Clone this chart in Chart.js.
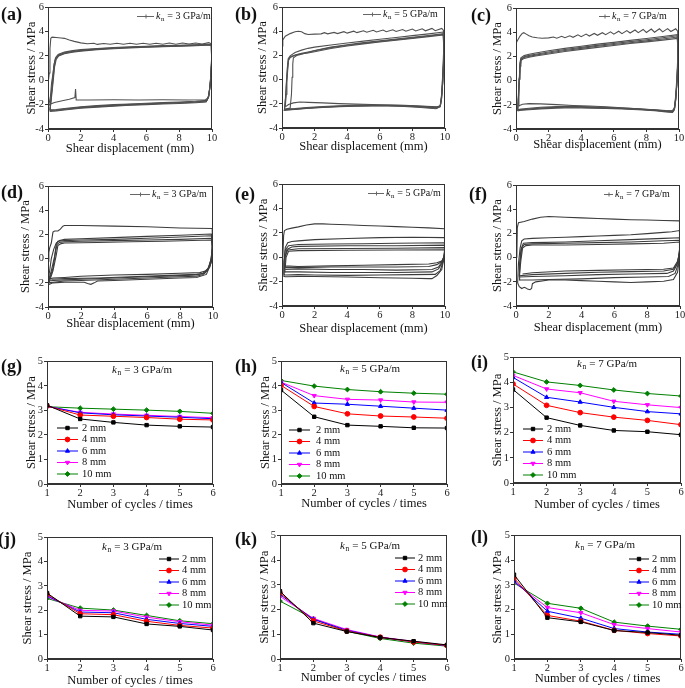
<!DOCTYPE html>
<html lang="en">
<head>
<meta charset="UTF-8" />
<title>Shear stress under cyclic shear</title>
<script src="https://cdn.jsdelivr.net/npm/chart.js"></script>
<style>
  body {
    margin: 0;
    width: 685px;
    height: 688px;
    overflow: hidden;
    background: #fff;
    position: relative;
    font-family: "Liberation Serif", "Times New Roman", serif;
  }
  .panel { position: absolute; }
  .tag { position: absolute; font-weight: bold; font-size: 18px; line-height: 1; color: #111; }
</style>
</head>
<body>
<script>
// ---- data ----
const dispTicks = [0, 2, 4, 6, 8, 10];
const loopStressTicks = [-4, -2, 0, 2, 4, 6];
const cycleTicks = [1, 2, 3, 4, 5, 6];
const peakStressTicks = [0, 1, 2, 3, 4, 5];
const amplitudes = ["2 mm", "4 mm", "6 mm", "8 mm", "10 mm"];

// hysteresis loops, one flat [x0, y0, x1, y1, ...] array per cycle
const loopsA = [
  [0,-0.3, 0.08,0.6, 0.12,2.6, 0.17,3.45, 0.25,3.55, 0.5,3.52, 0.8,3.48, 1.0,3.45, 1.3,3.32, 1.6,3.2, 2.0,3.08, 2.4,3.0, 2.8,3.05, 3.0,2.95, 3.4,3.03, 3.8,2.96, 4.2,3.05, 4.6,2.96, 5.0,3.04, 5.4,2.97, 5.8,3.05, 6.2,2.96, 6.6,3.05, 7.0,2.97, 7.4,3.06, 7.8,2.97, 8.2,3.06, 8.6,2.98, 9.0,3.07, 9.4,2.98, 9.8,3.1, 9.97,3.0,
   9.98,2.0, 9.93,0.4, 9.85,-0.8, 9.76,-1.45, 9.6,-1.6, 8.5,-1.62, 7,-1.6, 5.5,-1.62, 4,-1.6, 2.5,-1.62, 1.72,-1.62, 1.68,-0.72, 1.64,-1.42, 1.3,-1.55, 0.8,-1.7, 0.4,-1.82, 0.15,-1.95, 0.05,-2.05],
  [0.05,-2.05, 0.15,-1.3, 0.22,-0.2, 0.3,0.5, 0.38,1.4, 0.48,1.9, 0.65,2.15, 1.0,2.32, 1.5,2.44, 2,2.52, 3,2.62, 4,2.7, 5,2.76, 6,2.8, 7,2.85, 8,2.88, 9,2.92, 9.96,2.98,
   9.98,1.8, 9.92,0.1, 9.82,-1.2, 9.68,-1.65, 9,-1.72, 8,-1.78, 7,-1.83, 6,-1.88, 5,-1.94, 4,-2.0, 3,-2.08, 2,-2.18, 1,-2.32, 0.5,-2.4, 0.12,-2.42],
  [0.12,-2.42, 0.2,-1.2, 0.28,0.1, 0.36,1.2, 0.45,1.8, 0.6,2.08, 1.0,2.27, 1.5,2.39, 2,2.47, 3,2.58, 4,2.66, 5,2.72, 6,2.77, 7,2.81, 8,2.85, 9,2.89, 9.96,2.94,
   9.98,1.6, 9.9,-0.1, 9.8,-1.3, 9.66,-1.7, 9,-1.76, 8,-1.82, 7,-1.87, 6,-1.92, 5,-1.98, 4,-2.05, 3,-2.12, 2,-2.22, 1,-2.36, 0.5,-2.44, 0.12,-2.47],
  [0.12,-2.47, 0.2,-1.3, 0.3,0.0, 0.38,1.1, 0.47,1.75, 0.62,2.03, 1.0,2.22, 1.5,2.35, 2,2.43, 3,2.55, 4,2.63, 5,2.7, 6,2.75, 7,2.79, 8,2.83, 9,2.87, 9.96,2.92,
   9.98,1.5, 9.9,-0.2, 9.8,-1.35, 9.65,-1.74, 9,-1.8, 8,-1.86, 7,-1.9, 6,-1.96, 5,-2.02, 4,-2.08, 3,-2.16, 2,-2.26, 1,-2.4, 0.5,-2.48, 0.12,-2.5],
  [0.12,-2.5, 0.22,-1.3, 0.32,0.0, 0.4,1.1, 0.5,1.72, 0.65,2.0, 1.0,2.18, 1.5,2.31, 2,2.4, 3,2.52, 4,2.6, 5,2.67, 6,2.73, 7,2.77, 8,2.81, 9,2.85, 9.96,2.9,
   9.98,1.4, 9.9,-0.3, 9.78,-1.4, 9.64,-1.78, 9,-1.84, 8,-1.9, 7,-1.94, 6,-2.0, 5,-2.05, 4,-2.12, 3,-2.2, 2,-2.3, 1,-2.44, 0.5,-2.52, 0.1,-2.55]
];

const loopsB = [
  [0,2.8, 0.05,3.3, 0.2,3.6, 0.5,3.82, 0.8,3.97, 1.0,4.02, 1.2,3.98, 1.4,3.82, 1.6,3.75, 2.0,3.78, 2.4,3.8, 2.6,3.9, 2.8,3.8, 3.2,3.92, 3.4,3.82, 3.8,3.98, 4.0,3.86, 4.4,4.02, 4.6,3.9, 5.0,4.06, 5.2,3.93, 5.6,4.1, 5.8,3.96, 6.2,4.12, 6.4,3.98, 6.8,4.14, 7.0,4.0, 7.4,4.16, 7.6,4.02, 8.0,4.2, 8.2,4.04, 8.6,4.22, 8.8,4.05, 9.2,4.25, 9.4,4.06, 9.8,4.25, 9.9,4.1,
   9.92,2.5, 9.86,0.5, 9.8,-1.2, 9.72,-2.1, 9.6,-2.3, 9.2,-2.25, 8.5,-2.2, 7.5,-2.15, 6.5,-2.1, 5.5,-2.05, 4.5,-2.02, 3.5,-1.98, 2.5,-1.92, 1.6,-1.88, 1.1,-1.85, 0.7,-1.92, 0.4,-2.05, 0.2,-2.25],
  [0.2,-2.25, 0.26,-1.2, 0.3,-0.1, 0.35,0.8, 0.4,1.6, 0.5,1.85, 0.8,2.02, 1.2,2.18, 1.6,2.3, 2,2.42, 3,2.7, 4,2.9, 5,3.07, 6,3.22, 7,3.37, 8,3.52, 9,3.67, 9.9,3.82,
   9.93,2.0, 9.87,0.0, 9.8,-1.5, 9.72,-2.15, 9.5,-2.25, 8.5,-2.18, 7.5,-2.12, 6.5,-2.1, 5.5,-2.1, 4.5,-2.12, 3.5,-2.16, 2.5,-2.22, 1.5,-2.3, 0.8,-2.38, 0.3,-2.42, 0.15,-2.45],
  [0.15,-2.45, 0.5,-2.35, 0.58,-1.2, 0.62,0.2, 0.66,1.3, 0.7,1.82, 0.9,2.0, 1.2,2.12, 1.6,2.26, 2,2.4, 3,2.66, 4,2.86, 5,3.02, 6,3.17, 7,3.32, 8,3.47, 9,3.62, 9.9,3.76,
   9.93,1.8, 9.86,-0.2, 9.78,-1.6, 9.7,-2.2, 9.4,-2.3, 8.5,-2.22, 7.5,-2.16, 6.5,-2.14, 5.5,-2.14, 4.5,-2.16, 3.5,-2.2, 2.5,-2.26, 1.5,-2.34, 0.8,-2.42, 0.3,-2.47, 0.15,-2.5],
  [0.15,-2.5, 0.22,-1.5, 0.27,-0.2, 0.32,0.9, 0.38,1.75, 0.5,1.98, 0.8,2.25, 1.2,2.45, 1.6,2.6, 2,2.7, 3,2.88, 4,3.04, 5,3.2, 6,3.35, 7,3.5, 8,3.65, 9,3.8, 9.9,3.95,
   9.93,2.2, 9.86,0.2, 9.78,-1.4, 9.7,-2.2, 9.45,-2.4, 8.5,-2.3, 7.5,-2.22, 6.5,-2.18, 5.5,-2.18, 4.5,-2.2, 3.5,-2.24, 2.5,-2.3, 1.5,-2.38, 0.8,-2.46, 0.3,-2.5, 0.15,-2.52],
  [0.15,-2.52, 0.22,-1.4, 0.28,-0.2, 0.34,0.9, 0.4,1.7, 0.55,1.92, 0.9,2.08, 1.2,2.15, 1.6,2.22, 2,2.32, 3,2.58, 4,2.8, 5,2.97, 6,3.12, 7,3.27, 8,3.42, 9,3.57, 9.9,3.7,
   9.93,1.7, 9.86,-0.2, 9.78,-1.6, 9.7,-2.25, 9.5,-2.35, 8.5,-2.25, 7.5,-2.18, 6.5,-2.15, 5.5,-2.15, 4.5,-2.18, 3.5,-2.22, 2.5,-2.28, 1.5,-2.36, 0.8,-2.44, 0.3,-2.5, 0.1,-2.55]
];

const loopsC = [
  [0,3.1, 0.1,3.35, 0.25,3.7, 0.38,3.92, 0.48,3.98, 0.6,3.88, 0.8,3.72, 1.0,3.62, 1.3,3.56, 1.6,3.52, 2.0,3.55, 2.3,3.62, 2.5,3.52, 2.8,3.68, 3.0,3.56, 3.3,3.72, 3.5,3.6, 3.8,3.8, 4.0,3.65, 4.3,3.86, 4.5,3.7, 4.8,3.92, 5.0,3.76, 5.3,3.98, 5.5,3.82, 5.8,4.05, 6.0,3.86, 6.3,4.1, 6.5,3.9, 6.8,4.15, 7.0,3.95, 7.3,4.2, 7.5,3.98, 7.8,4.25, 8.0,4.0, 8.3,4.28, 8.5,4.02, 8.8,4.3, 9.0,4.05, 9.3,4.32, 9.5,4.08, 9.8,4.3, 9.92,4.1,
   9.94,2.5, 9.88,0.5, 9.8,-1.2, 9.72,-2.2, 9.6,-2.5, 9.2,-2.5, 8.5,-2.42, 7.5,-2.32, 6.5,-2.24, 5.5,-2.16, 4.5,-2.1, 3.5,-2.05, 2.5,-1.98, 1.5,-1.92, 0.8,-1.9, 0.4,-1.95, 0.15,-2.1],
  [0.15,-2.1, 0.18,-1.0, 0.22,0.3, 0.26,1.2, 0.32,1.7, 0.5,1.85, 0.8,1.95, 1.2,2.05, 2,2.22, 3,2.42, 4,2.6, 5,2.76, 6,2.92, 7,3.08, 8,3.22, 9,3.36, 9.9,3.5,
   9.94,2.0, 9.88,0.0, 9.8,-1.5, 9.72,-2.35, 9.6,-2.6, 9.2,-2.55, 8.5,-2.45, 7.5,-2.36, 6.5,-2.3, 5.5,-2.26, 4.5,-2.22, 3.5,-2.18, 2.5,-2.22, 1.5,-2.28, 0.8,-2.36, 0.3,-2.42, 0.1,-2.45],
  [0.1,-2.45, 0.16,-1.1, 0.2,0.2, 0.25,1.2, 0.3,1.75, 0.5,1.92, 0.8,2.02, 1.2,2.12, 2,2.3, 3,2.5, 4,2.68, 5,2.85, 6,3.0, 7,3.15, 8,3.3, 9,3.46, 9.9,3.62,
   9.94,1.9, 9.88,-0.1, 9.8,-1.6, 9.72,-2.4, 9.6,-2.62, 9.2,-2.58, 8.5,-2.48, 7.5,-2.4, 6.5,-2.34, 5.5,-2.3, 4.5,-2.27, 3.5,-2.24, 2.5,-2.27, 1.5,-2.33, 0.8,-2.4, 0.3,-2.45, 0.1,-2.5],
  [0.1,-2.5, 0.16,-1.2, 0.2,0.1, 0.24,1.3, 0.3,1.8, 0.5,1.98, 0.8,2.1, 1.2,2.2, 2,2.38, 3,2.58, 4,2.76, 5,2.93, 6,3.08, 7,3.24, 8,3.4, 9,3.56, 9.9,3.72,
   9.94,2.0, 9.88,0.0, 9.8,-1.5, 9.72,-2.35, 9.6,-2.55, 9.2,-2.52, 8.5,-2.44, 7.5,-2.36, 6.5,-2.3, 5.5,-2.25, 4.5,-2.2, 3.5,-2.16, 2.5,-2.2, 1.5,-2.26, 0.8,-2.34, 0.3,-2.4, 0.1,-2.45],
  [0.1,-2.45, 0.15,-1.1, 0.19,0.2, 0.23,1.4, 0.3,1.9, 0.5,2.08, 0.8,2.2, 1.2,2.3, 2,2.48, 3,2.68, 4,2.86, 5,3.03, 6,3.18, 7,3.34, 8,3.5, 9,3.66, 9.9,3.82,
   9.94,2.1, 9.88,0.1, 9.8,-1.4, 9.72,-2.3, 9.6,-2.5, 9.2,-2.48, 8.5,-2.4, 7.5,-2.32, 6.5,-2.26, 5.5,-2.2, 4.5,-2.16, 3.5,-2.12, 2.5,-2.15, 1.5,-2.2, 0.8,-2.28, 0.3,-2.35, 0.05,-2.4]
];

const loopsD = [
  [0,-0.2, 0.05,0.5, 0.1,0.9, 0.2,1.3, 0.3,2.2, 0.4,2.3, 0.6,2.3, 0.75,2.45, 0.9,2.7, 1,2.75, 2,2.75, 4,2.7, 6,2.65, 8,2.55, 9.95,2.5,
   9.98,1.0, 9.93,0.0, 9.8,-0.7, 9.6,-1.0, 9.2,-1.15, 8,-1.2, 6,-1.3, 4,-1.35, 2,-1.45, 1,-1.55, 0.3,-1.6, 0.02,-1.7],
  [0.02,-1.7, 0.1,-1.0, 0.2,0.0, 0.35,0.8, 0.5,1.3, 0.7,1.5, 1,1.6, 2,1.65, 4,1.75, 6,1.85, 8,1.95, 9.9,2.05,
   9.97,1.5, 9.9,0.0, 9.7,-0.8, 9.4,-1.2, 9,-1.35, 8,-1.4, 6,-1.5, 4,-1.6, 2,-1.7, 1,-1.75, 0.3,-1.8, 0.02,-1.85],
  [0.02,-1.85, 0.2,-1.0, 0.4,0.2, 0.5,1.2, 0.6,1.45, 1,1.5, 2,1.55, 4,1.6, 6,1.7, 8,1.8, 9.9,1.9,
   9.97,1.2, 9.9,0.0, 9.7,-0.9, 9.4,-1.3, 9,-1.45, 8,-1.5, 6,-1.6, 4,-1.7, 2,-1.8, 1,-1.85, 0.3,-1.95, 0.02,-2.0],
  [0.02,-2.0, 0.3,-0.8, 0.45,0.5, 0.55,1.2, 0.7,1.35, 1,1.4, 2,1.45, 4,1.5, 6,1.55, 8,1.6, 9.9,1.7,
   9.97,1.0, 9.9,-0.3, 9.6,-1.3, 9,-1.55, 8,-1.6, 6,-1.7, 4,-1.8, 3,-1.85, 2.8,-2.0, 2.6,-2.12, 2.4,-2.05, 2.2,-1.95, 1,-1.95, 0.3,-2.0, 0.02,-2.15],
  [0.02,-2.15, 0.3,-1.0, 0.5,0.3, 0.6,1.1, 0.8,1.25, 1,1.3, 3,1.35, 5,1.4, 7,1.45, 9.9,1.55,
   9.97,0.8, 9.8,-0.6, 9.5,-1.2, 9,-1.3, 7,-1.4, 5,-1.5, 3,-1.6, 1,-1.65, 0.2,-1.7]
];

const loopsE = [
  [0.05,0.0, 0.1,1.8, 0.15,2.2, 0.3,2.3, 0.6,2.4, 1,2.5, 1.5,2.65, 2,2.75, 2.5,2.75, 3,2.72, 4,2.68, 5,2.62, 6,2.57, 7,2.52, 8,2.47, 9,2.42, 9.97,2.35,
   9.99,1.2, 9.95,0.2, 9.8,-1.0, 9.5,-1.5, 9.2,-1.75, 9,-1.75, 8,-1.72, 6,-1.68, 4,-1.62, 2,-1.58, 1,-1.58, 0.2,-1.6, 0.1,-1.55],
  [0.1,-1.55, 0.12,-0.5, 0.2,0.8, 0.35,1.2, 0.6,1.3, 1,1.35, 2,1.45, 4,1.55, 6,1.62, 8,1.65, 9.97,1.62,
   9.99,0.8, 9.9,-0.3, 9.7,-1.1, 9.4,-1.4, 8,-1.42, 6,-1.45, 4,-1.48, 2,-1.45, 1,-1.42, 0.2,-1.45, 0.1,-1.4],
  [0.1,-1.4, 0.12,-0.3, 0.2,0.6, 0.4,0.95, 1,1.05, 3,1.1, 5,1.12, 7,1.15, 9.97,1.2,
   9.99,0.5, 9.85,-0.4, 9.6,-0.95, 9.2,-1.2, 7,-1.25, 5,-1.25, 3,-1.25, 1,-1.2, 0.15,-1.2],
  [0.15,-1.2, 0.18,0.0, 0.3,0.65, 0.6,0.85, 1,0.9, 4,0.95, 7,0.95, 9.97,1.0,
   9.99,0.3, 9.85,-0.3, 9.6,-0.8, 9.2,-1.0, 7,-1.05, 5,-1.0, 3,-1.0, 1,-0.95, 0.15,-1.0],
  [0.15,-1.0, 0.2,0.1, 0.35,0.6, 1,0.7, 4,0.72, 7,0.75, 9.97,0.8,
   9.99,0.2, 9.8,-0.35, 9.5,-0.6, 9,-0.75, 7,-0.8, 5,-0.8, 3,-0.8, 1,-0.85, 0.2,-0.85],
  [0.2,-0.85, 0.25,0.0, 0.4,0.5, 1,0.55, 4,0.58, 7,0.6, 9.97,0.62,
   9.99,0.1, 9.8,-0.3, 9.5,-0.45, 9,-0.55, 7,-0.6, 5,-0.65, 3,-0.7, 1,-0.75, 0.2,-0.7]
];

const loopsF = [
  [0.05,0.0, 0.08,2.5, 0.15,2.9, 0.5,3.0, 1,3.2, 1.5,3.35, 2,3.42, 3,3.35, 4,3.3, 5,3.25, 6,3.2, 7,3.15, 8,3.12, 9,3.08, 9.97,3.05,
   9.99,1.5, 9.95,0.0, 9.85,-1.2, 9.6,-1.8, 9,-1.95, 8,-2.0, 7,-2.05, 6,-2.0, 5,-1.95, 4,-1.9, 3,-1.85, 2,-1.85, 1.2,-2.0, 1,-2.15, 0.95,-2.55, 0.85,-2.65, 0.7,-2.6, 0.6,-2.5, 0.5,-2.45, 0.35,-2.55, 0.2,-2.4, 0.1,-2.1],
  [0.1,-2.1, 0.15,-0.5, 0.25,0.8, 0.35,1.4, 0.5,1.55, 1,1.6, 2,1.65, 3,1.7, 4,1.75, 5,1.8, 6,1.85, 7,1.9, 8,2.0, 9,2.1, 9.5,2.15, 9.97,2.25,
   9.99,1.0, 9.9,-0.5, 9.7,-1.3, 9.3,-1.55, 8,-1.6, 6,-1.65, 4,-1.75, 2,-1.8, 1,-1.85, 0.2,-1.85],
  [0.2,-1.85, 0.22,-0.5, 0.3,0.7, 0.45,1.2, 1,1.25, 3,1.3, 5,1.4, 7,1.5, 9,1.6, 9.97,1.65,
   9.99,0.8, 9.85,-0.5, 9.6,-1.1, 9.2,-1.3, 7,-1.35, 5,-1.4, 3,-1.5, 1,-1.55, 0.2,-1.6],
  [0.2,-1.6, 0.25,-0.3, 0.35,0.8, 0.5,1.1, 1,1.15, 3,1.2, 5,1.25, 7,1.3, 9,1.4, 9.97,1.45,
   9.99,0.6, 9.85,-0.4, 9.6,-0.95, 9,-1.1, 7,-1.15, 5,-1.2, 3,-1.3, 1,-1.4, 0.2,-1.5],
  [0.2,-1.5, 0.3,-0.2, 0.4,0.8, 0.6,1.0, 1,1.05, 3,1.05, 5,1.1, 7,1.15, 9,1.2, 9.97,1.3,
   9.99,0.5, 9.85,-0.3, 9.6,-0.85, 9,-0.95, 7,-1.0, 5,-1.05, 3,-1.1, 1,-1.25, 0.4,-1.35]
];

// peak shear stress per cycle, one row per amplitude (2, 4, 6, 8, 10 mm)
const peakG = [
  [3.21, 2.65, 2.51, 2.40, 2.35, 2.32],
  [3.18, 2.81, 2.76, 2.71, 2.64, 2.61],
  [3.17, 2.90, 2.82, 2.77, 2.72, 2.66],
  [3.16, 2.92, 2.85, 2.80, 2.75, 2.70],
  [3.15, 3.09, 3.05, 3.01, 2.96, 2.88]
];
const peakH = [
  [3.83, 2.74, 2.40, 2.35, 2.29, 2.28],
  [4.02, 3.16, 2.86, 2.77, 2.73, 2.68],
  [4.14, 3.30, 3.25, 3.17, 3.09, 3.01],
  [4.15, 3.60, 3.45, 3.42, 3.34, 3.33],
  [4.22, 3.99, 3.85, 3.76, 3.70, 3.66]
];
const peakI = [
  [3.72, 2.60, 2.29, 2.09, 2.04, 1.92],
  [3.94, 3.09, 2.80, 2.62, 2.49, 2.32],
  [4.20, 3.41, 3.22, 3.01, 2.84, 2.75],
  [4.28, 3.74, 3.59, 3.25, 3.11, 3.00],
  [4.42, 4.02, 3.88, 3.70, 3.56, 3.46]
];
const peakJ = [
  [2.71, 1.76, 1.73, 1.44, 1.34, 1.19],
  [2.66, 1.86, 1.82, 1.55, 1.38, 1.27],
  [2.60, 1.93, 1.90, 1.63, 1.46, 1.34],
  [2.56, 2.00, 1.97, 1.72, 1.53, 1.39],
  [2.49, 2.09, 2.01, 1.79, 1.57, 1.45]
];
const peakK = [
  [2.74, 1.45, 1.11, 0.87, 0.72, 0.57],
  [2.67, 1.54, 1.13, 0.88, 0.69, 0.55],
  [2.61, 1.60, 1.16, 0.88, 0.69, 0.54],
  [2.53, 1.64, 1.19, 0.89, 0.71, 0.55],
  [2.34, 1.63, 1.12, 0.83, 0.64, 0.52]
];
const peakL = [
  [3.41, 1.67, 1.50, 1.15, 1.07, 0.96],
  [3.27, 1.76, 1.53, 1.16, 1.03, 0.93],
  [3.16, 1.93, 1.65, 1.23, 1.09, 1.00],
  [3.12, 2.08, 1.87, 1.39, 1.23, 1.09],
  [3.07, 2.25, 2.05, 1.49, 1.33, 1.20]
];

// ---- layout & style ----
const ML = 44, MT = 6, MR = 6, MB = 32;
const FONT = '"Liberation Serif", "Times New Roman", serif';
Chart.defaults.font.family = FONT;
Chart.defaults.color = "#222";

const seriesColors = ["#000000", "#ff0000", "#0000ff", "#ff00ff", "#008000"];
const seriesMarks = ["rect", "circle", "triangle", "triangle", "rectRot"];
const seriesTurn = [0, 0, 0, 180, 0];

// box = plot area [left, top, right, bottom] in page pixels
const panels = [
  { tag: "(a)", tagAt: [1, 5], box: [48, 6, 212, 129], xt: 20, yt: 16, loops: loopsA, kn: "3", key: [137, 154, 16, 156] },
  { tag: "(b)", tagAt: [235, 5], box: [282, 6, 445, 128], xt: 19, yt: 19, loops: loopsB, kn: "5", key: [363, 381, 14, 383] },
  { tag: "(c)", tagAt: [471, 6], box: [516, 7, 679, 129], xt: 16, yt: 18, loops: loopsC, kn: "7", key: [599, 610, 16, 612] },
  { tag: "(d)", tagAt: [1, 183], box: [48, 185, 213, 307], xt: 17, yt: 22, loops: loopsD, kn: "3", key: [130, 150, 194, 152] },
  { tag: "(e)", tagAt: [235, 185], box: [282, 183, 445, 306], xt: 23, yt: 18, loops: loopsE, kn: "5", key: [368, 384, 193, 386] },
  { tag: "(f)", tagAt: [469, 185], box: [516, 184, 680, 306], xt: 22, yt: 18, loops: loopsF, kn: "7", key: [604, 613, 194, 615] },
  { tag: "(g)", tagAt: [1, 357], box: [47, 360, 213, 484], xt: 21, yt: 15, peaks: peakG, kn: "3", note: [112, 370], legend: [57, 78, 82, 428, 11.5] },
  { tag: "(h)", tagAt: [235, 357], box: [281, 360, 447, 484], xt: 20, yt: 15, peaks: peakH, kn: "5", note: [340, 369], legend: [289, 310, 316, 430, 11.5] },
  { tag: "(i)", tagAt: [471, 353], box: [513, 356, 681, 483], xt: 22, yt: 15, peaks: peakI, kn: "7", note: [577, 364], legend: [523, 543, 547, 429, 11.5] },
  { tag: "(j)", tagAt: [-2, 530], box: [47, 536, 213, 659], xt: 22, yt: 19, peaks: peakJ, kn: "3", note: [102, 547], legend: [159, 179, 182, 559, 11.5] },
  { tag: "(k)", tagAt: [235, 530], box: [280, 534, 447, 659], xt: 19, yt: 15, peaks: peakK, kn: "5", note: [340, 546], legend: [395, 415, 418, 558, 11.5] },
  { tag: "(l)", tagAt: [471, 528], box: [514, 534, 681, 659], xt: 20, yt: 16, peaks: peakL, kn: "7", note: [575, 545], legend: [629, 649, 652, 559, 11.5] }
];

function pairs(flat) {
  const out = [];
  for (let i = 0; i < flat.length; i += 2) out.push({ x: flat[i], y: flat[i + 1] });
  return out;
}

function knText(ctx, x, y, val, size) {
  ctx.textAlign = "left";
  ctx.textBaseline = "middle";
  ctx.fillStyle = "#111";
  ctx.font = `italic ${size}px ${FONT}`;
  ctx.fillText("k", x, y);
  let w = ctx.measureText("k").width + 0.5;
  const sub = size * 0.68;
  ctx.font = `${sub}px ${FONT}`;
  ctx.fillText("n", x + w, y + size * 0.32);
  w += ctx.measureText("n").width + 0.5;
  ctx.font = `${size}px ${FONT}`;
  ctx.fillText(" = " + val + " GPa/m", x + w, y);
}

function mark(ctx, i, x, y) {
  ctx.fillStyle = seriesColors[i];
  ctx.strokeStyle = seriesColors[i];
  const opts = { pointStyle: seriesMarks[i], radius: 2.4, rotation: seriesTurn[i], borderWidth: 1 };
  if (Chart.helpers && Chart.helpers.drawPoint) {
    Chart.helpers.drawPoint(ctx, opts, x, y);
  } else {
    ctx.fillRect(x - 1.7, y - 1.7, 3.4, 3.4);
  }
}

function makePanel(p) {
  const [l, t, r, b] = p.box;
  const W = r - l + ML + MR, H = b - t + MT + MB;
  const ox = l - ML, oy = t - MT;
  const wrap = document.createElement("div");
  wrap.className = "panel";
  wrap.style.left = ox + "px";
  wrap.style.top = oy + "px";
  wrap.style.width = W + "px";
  wrap.style.height = H + "px";
  const canvas = document.createElement("canvas");
  canvas.width = W;
  canvas.height = H;
  canvas.style.width = W + "px";
  canvas.style.height = H + "px";
  wrap.appendChild(canvas);
  document.body.appendChild(wrap);

  const isLoop = !!p.loops;
  let datasets;
  if (isLoop) {
    const tone = p.key[2] < 100 ? "#505050" : "#3c3c3c";
    datasets = p.loops.map(loop => ({
      data: pairs(loop),
      showLine: true,
      borderColor: tone,
      borderWidth: 1.1,
      pointRadius: 0,
      tension: 0
    }));
  } else {
    datasets = p.peaks.map((row, i) => ({
      label: amplitudes[i],
      data: cycleTicks.map((c, k) => ({ x: c, y: row[k] })),
      showLine: true,
      borderColor: seriesColors[i],
      backgroundColor: seriesColors[i],
      borderWidth: 1,
      pointStyle: seriesMarks[i],
      pointRotation: seriesTurn[i],
      pointRadius: 2.4,
      pointBorderWidth: 1,
      tension: 0
    }));
  }

  const xTicks = isLoop ? dispTicks : cycleTicks;
  const yTicks = isLoop ? loopStressTicks : peakStressTicks;

  const decorate = {
    id: "decorate",
    afterDraw(chart) {
      const { ctx, chartArea: a } = chart;
      ctx.save();
      ctx.strokeStyle = "#333";
      ctx.lineWidth = 1;
      ctx.strokeRect(Math.round(a.left) + 0.5, Math.round(a.top) + 0.5,
        Math.round(a.right - a.left) - 1, Math.round(a.bottom - a.top) - 1);
      if (p.key) {
        const [x0, x1, ky, tx] = p.key;
        ctx.strokeStyle = "#666";
        ctx.beginPath();
        ctx.moveTo(x0 - ox, ky - oy + 0.5);
        ctx.lineTo(x1 - ox, ky - oy + 0.5);
        const mx = (x0 + x1) / 2 - ox;
        ctx.moveTo(mx + 0.5, ky - oy - 1.5);
        ctx.lineTo(mx + 0.5, ky - oy + 2.5);
        ctx.stroke();
        knText(ctx, tx - ox, ky - oy, p.kn, 10);
      }
      if (p.note) {
        knText(ctx, p.note[0] - ox, p.note[1] - oy, p.kn, 11);
      }
      if (p.legend) {
        const [x0, x1, tx, y0, step] = p.legend;
        amplitudes.forEach((name, i) => {
          const y = y0 + i * step - oy;
          ctx.strokeStyle = seriesColors[i];
          ctx.lineWidth = 1;
          ctx.beginPath();
          ctx.moveTo(x0 - ox, y);
          ctx.lineTo(x1 - ox, y);
          ctx.stroke();
          mark(ctx, i, (x0 + x1) / 2 - ox, y);
          ctx.fillStyle = "#111";
          ctx.font = `10.5px ${FONT}`;
          ctx.textAlign = "left";
          ctx.textBaseline = "middle";
          ctx.fillText(name, tx - ox, y);
        });
      }
      ctx.restore();
    }
  };

  new Chart(canvas, {
    type: "scatter",
    data: { datasets },
    options: {
      responsive: false,
      animation: false,
      devicePixelRatio: 1,
      layout: { padding: { top: MT, right: MR, left: 0, bottom: 0 } },
      plugins: { legend: { display: false }, tooltip: { enabled: false } },
      scales: {
        x: {
          type: "linear",
          min: xTicks[0],
          max: xTicks[xTicks.length - 1],
          afterBuildTicks: s => { s.ticks = xTicks.map(v => ({ value: v })); },
          afterFit: s => { s.height = MB; },
          grid: { drawOnChartArea: false, tickLength: 3, color: "#333" },
          border: { color: "#333" },
          ticks: { font: { size: 10.5 }, padding: 0, maxRotation: 0, autoSkip: false, color: "#222" },
          title: {
            display: true,
            text: isLoop ? "Shear displacement (mm)" : "Number of cycles / times",
            font: { size: 12.5 },
            color: "#111",
            padding: { top: 0, bottom: MB - p.xt - 7.5 }
          }
        },
        y: {
          type: "linear",
          min: yTicks[0],
          max: yTicks[yTicks.length - 1],
          afterBuildTicks: s => { s.ticks = yTicks.map(v => ({ value: v })); },
          afterFit: s => { s.width = ML; },
          grid: { drawOnChartArea: false, tickLength: 3, color: "#333" },
          border: { color: "#333" },
          ticks: { font: { size: 10.5 }, padding: 1, color: "#222" },
          title: {
            display: true,
            text: "Shear stress / MPa",
            font: { size: 12.5 },
            color: "#111",
            padding: { top: ML - p.yt - 7.5, bottom: 0 }
          }
        }
      }
    },
    plugins: [decorate]
  });
}

panels.forEach(makePanel);

panels.forEach(p => {
  const d = document.createElement("div");
  d.className = "tag";
  d.textContent = p.tag;
  d.style.left = p.tagAt[0] + "px";
  d.style.top = p.tagAt[1] + "px";
  document.body.appendChild(d);
});
</script>
</body>
</html>
